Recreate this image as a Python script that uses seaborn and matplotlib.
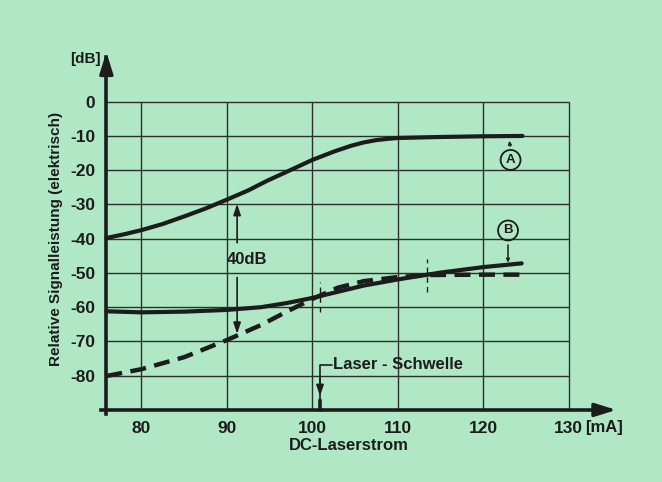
import numpy as np
import pandas as pd
import matplotlib
matplotlib.use("Agg")
import matplotlib.pyplot as plt
import seaborn as sns

# values (DC laser current in mA, signal in dB)
a_current = [75.9, 78, 80, 82.5, 85, 87.5, 90, 92.5, 94.7, 97.5, 100, 102.6, 104.5,
             106, 107.5, 109, 110, 115, 120, 124.6]
a_level = [-39.8, -38.7, -37.5, -35.7, -33.5, -31.2, -28.6, -25.9, -23.1, -19.9,
           -17.0, -14.5, -12.9, -11.9, -11.2, -10.8, -10.6, -10.3, -10.1, -10.0]

b_current = [75.9, 80, 85, 90, 94, 97, 100, 103, 106, 110, 115, 120, 124.5]
b_level = [-61.2, -61.5, -61.3, -60.8, -60.0, -58.8, -57.3, -55.5, -53.7, -51.9, -49.9, -48.3, -47.2]

b_dash_current = [75.9, 80, 85, 90, 94, 97, 100, 103, 106, 110, 114, 120, 124.5]
b_dash_level = [-80.1, -78.1, -74.6, -69.6, -65.2, -61.3, -57.6, -54.3, -52.4, -51.2, -50.6, -50.5, -50.5]

x_ticks = [80, 90, 100, 110, 120, 130]
y_ticks = [0, -10, -20, -30, -40, -50, -60, -70, -80]

laser_threshold = 100.9
marker_currents = [100.9, 113.4]
marker_spans = [(-61.3, -52.5), (-55.5, -46.0)]

bg = "#b0e8c6"
ink = "#1c1c1c"

sns.set_style("white")
plt.rcParams["font.family"] = ["Liberation Sans", "DejaVu Sans"]
plt.rcParams["axes.unicode_minus"] = False

fig = plt.figure(figsize=(6.62, 4.82), dpi=100, facecolor=bg)
ax = fig.add_axes([0.1426, 0.1282, 0.8068, 0.7816])
ax.set_facecolor(bg)
ax.set_xlim(74.5, 137)
ax.set_ylim(-93, 17)

# grid limited to the chart box
ax.vlines(x_ticks, -90, 0, color="#2e2e2e", lw=1.0, zorder=1)
ax.hlines(y_ticks, 75.9, 130, color="#2e2e2e", lw=1.0, zorder=1)

# curves
sns.lineplot(x=a_current, y=a_level, ax=ax, color=ink, lw=3.0, zorder=3)
sns.lineplot(x=b_current, y=b_level, ax=ax, color=ink, lw=3.0, zorder=3)
sns.lineplot(x=b_dash_current, y=b_dash_level, ax=ax, color=ink, lw=3.2, zorder=3)
ax.lines[-1].set_dashes([3.6, 1.9])

# thin dashed markers
for xc, (y0, y1) in zip(marker_currents, marker_spans):
    ax.plot([xc, xc], [y0, y1], color=ink, lw=1.0, ls=(0, (4, 3)), zorder=2)

# axes as arrows
for s in ["top", "right"]:
    ax.spines[s].set_visible(False)
ax.spines["bottom"].set_position(("data", -90))
ax.spines["left"].set_position(("data", 75.9))
ax.spines["bottom"].set_bounds(75.3, 134.5)
ax.spines["left"].set_bounds(-91.2, 13)
for s in ["bottom", "left"]:
    ax.spines[s].set_linewidth(2.6)
    ax.spines[s].set_color(ink)
ax.annotate("", xy=(135.9, -90), xytext=(133.5, -90),
            arrowprops=dict(arrowstyle="-|>,head_length=0.8,head_width=0.25",
                            color=ink, lw=2.4, mutation_scale=16))
ax.annotate("", xy=(75.9, 15.3), xytext=(75.9, 10),
            arrowprops=dict(arrowstyle="-|>,head_length=0.8,head_width=0.25",
                            color=ink, lw=2.4, mutation_scale=16))

ax.set_xticks(x_ticks)
ax.set_yticks(y_ticks)
ax.set_xticklabels([str(v) for v in x_ticks])
ax.set_yticklabels([str(v) if v == 0 else "-" + str(-v) for v in y_ticks])
ax.tick_params(axis="both", direction="out", length=6, width=2.0, color=ink,
               labelsize=12.5, labelcolor=ink, pad=2)
for lab in ax.get_xticklabels() + ax.get_yticklabels():
    lab.set_fontweight("bold")

ax.set_xlabel("")
ax.set_ylabel("")
ax.text(104.3, -100.3, "DC-Laserstrom", ha="center", va="center",
        fontsize=12, fontweight="bold", color=ink, clip_on=False)
fig.text(0.085, 0.505, "Relative Signalleistung (elektrisch)", rotation=90,
         ha="center", va="center", fontsize=11, fontweight="bold", color=ink)
ax.text(73.4, 12.4, "[dB]", ha="center", va="center", fontsize=11,
        fontweight="bold", color=ink, clip_on=False)
ax.text(134.1, -95.0, "[mA]", ha="center", va="center", fontsize=12,
        fontweight="bold", color=ink, clip_on=False)

# 40 dB span
arr = dict(arrowstyle="-|>,head_length=0.6,head_width=0.2", color=ink, lw=1.2,
           mutation_scale=11)
ax.annotate("", xy=(91.2, -29.0), xytext=(91.2, -42.0), arrowprops=arr)
ax.annotate("", xy=(91.2, -68.6), xytext=(91.2, -50.5), arrowprops=arr)
ax.text(92.4, -46.2, "40dB", ha="center", va="center", fontsize=12,
        fontweight="bold", color=ink, zorder=4)

# laser threshold
ax.plot([laser_threshold, laser_threshold, 102.3], [-86.5, -76.8, -76.8],
        color=ink, lw=1.2, zorder=3)
ax.annotate("", xy=(laser_threshold, -86.8), xytext=(laser_threshold, -80),
            arrowprops=arr)
ax.plot([laser_threshold, laser_threshold], [-87, -90], color=ink, lw=2.6, zorder=3)
ax.text(102.4, -76.8, "Laser - Schwelle", ha="left", va="center", fontsize=12,
        fontweight="bold", color=ink)

# curve labels
circ = dict(boxstyle="circle,pad=0.3", fc="none", ec=ink, lw=1.3)
ax.text(123.2, -17.0, "A", ha="center", va="center", fontsize=9.5,
        fontweight="bold", color=ink, bbox=circ)
ax.annotate("", xy=(123.0, -10.6), xytext=(123.2, -13.8),
            arrowprops=dict(arrowstyle="->", color=ink, lw=1.1, mutation_scale=5))
ax.text(122.9, -37.6, "B", ha="center", va="center", fontsize=9.5,
        fontweight="bold", color=ink, bbox=circ)
ax.annotate("", xy=(122.9, -47.8), xytext=(122.9, -41.0),
            arrowprops=dict(arrowstyle="->", color=ink, lw=1.1, mutation_scale=5))

fig.savefig("out.png", dpi=100, facecolor=bg)
